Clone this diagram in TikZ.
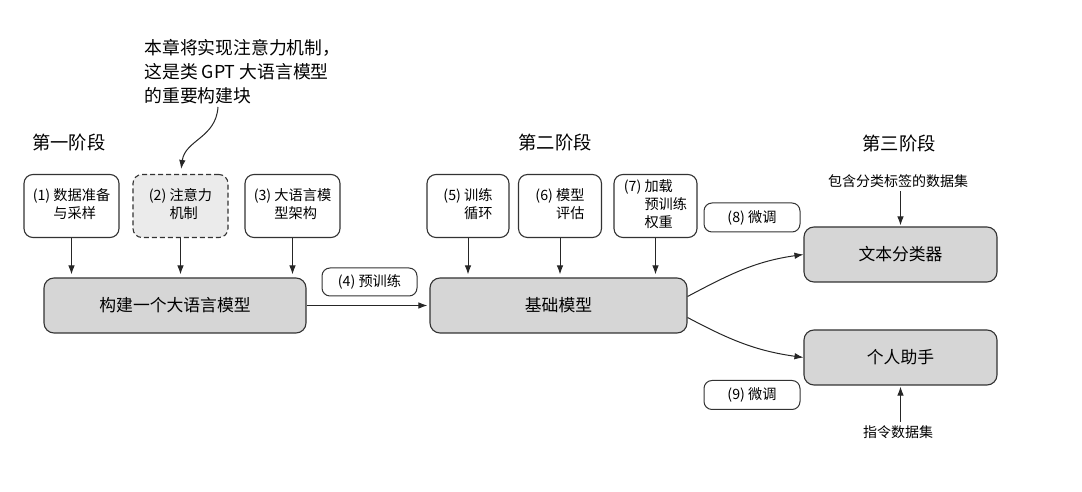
\documentclass[tikz,border=0pt]{standalone}
\usepackage{fontspec}
\setmainfont{Noto Sans CJK SC}
\usetikzlibrary{arrows.meta,calc}
\newcommand{\stagetext}[2]{(#1)~\begin{tabular}[t]{@{}l@{}}#2\end{tabular}}

\begin{document}
\begin{tikzpicture}[
  x=1pt, y=1pt,
  font=\fontsize{14.2}{17.8}\selectfont,
  task/.style={draw=black!80, line width=1.1pt, rounded corners=9pt, fill=white, minimum width=95pt, minimum height=63pt, inner sep=0pt, align=center},
  attnbox/.style={task, dash pattern=on 5pt off 3pt, fill=black!8},
  core/.style={draw=black!80, line width=1.1pt, rounded corners=10pt, fill=black!16, minimum height=55pt, inner sep=0pt, font=\fontsize{16.8}{20}\selectfont},
  tag/.style={draw=black!80, line width=1pt, rounded corners=8pt, fill=white, minimum width=96pt, minimum height=29pt, inner sep=0pt},
  phase/.style={font=\fontsize{18.3}{22}\selectfont},
  note/.style={font=\fontsize{17.8}{24}\selectfont, align=left},
  flow/.style={draw=black!85, line width=1pt, -{Latex[length=9pt,width=6.5pt]}},
  data/.style={font=\fontsize{14}{16}\selectfont},
]
\useasboundingbox (0,0) rectangle (1082,492);

\node[note, anchor=west] (note) at (141,420) {本章将实现注意力机制，\\这是类 GPT 大语言模型\\的重要构建块};
\coordinate (notetail) at (218,385);

\node[phase] (ph1) at (69,349) {第一阶段};
\node[phase] (ph2) at (555,349) {第二阶段};
\node[phase] (ph3) at (899,348) {第三阶段};

\node[task] (prep) at (71.5,286) {\stagetext{1}{数据准备\\与采样}};
\node[attnbox] (attn) at (180.5,286) {\stagetext{2}{注意力\\机制}};
\node[task] (arch) at (292.5,286) {\stagetext{3}{大语言模\\型架构}};
\node[task, minimum width=82pt] (loop) at (468,286) {\stagetext{5}{训练\\循环}};
\node[task, minimum width=83pt] (eval) at (560,286) {\stagetext{6}{模型\\评估}};
\node[task, minimum width=83pt] (load) at (655.5,286) {\stagetext{7}{加载\\预训练\\权重}};

\node[core, minimum width=262pt] (build) at (175,186.5) {构建一个大语言模型};
\node[core, minimum width=257pt] (base) at (558.5,186.5) {基础模型};
\node[core, minimum width=193pt] (clf) at (900.5,237.5) {文本分类器};
\node[core, minimum width=193pt] (asst) at (900.5,134.5) {个人助手};

\node[tag, minimum width=95pt, minimum height=28pt] (pretrain) at (369.5,210) {(4) 预训练};
\node[tag] (ft8) at (752,274.5) {(8) 微调};
\node[tag] (ft9) at (752,97) {(9) 微调};

\node[data] (clsdata) at (898,311) {包含分类标签的数据集};
\node[data] (insdata) at (898,60) {指令数据集};

\draw[flow, shorten >=5pt] (notetail) .. controls (216,354) and (185,352) .. (attn.north);
\draw[flow, shorten >=3pt] (prep.south) -- (prep.south |- build.north);
\draw[flow, shorten >=3pt] (attn.south) -- (attn.south |- build.north);
\draw[flow, shorten >=3pt] (arch.south) -- (arch.south |- build.north);
\draw[flow, shorten >=3pt] (loop.south) -- (loop.south |- base.north);
\draw[flow, shorten >=3pt] (eval.south) -- (eval.south |- base.north);
\draw[flow, shorten >=3pt] (load.south) -- (load.south |- base.north);
\draw[flow, shorten >=2pt] (build.east) -- (base.west);
\draw[flow] ($(base.east)+(0,9)$) to[out=28, in=188] (clf.west);
\draw[flow] ($(base.east)+(0,-12)$) to[out=-28, in=172] (asst.west);
\draw[flow, shorten >=1pt] (clsdata.south -| clf.north) -- (clf.north);
\draw[flow, shorten >=1pt] (insdata.north -| asst.south) -- (asst.south);
\end{tikzpicture}
\end{document}
